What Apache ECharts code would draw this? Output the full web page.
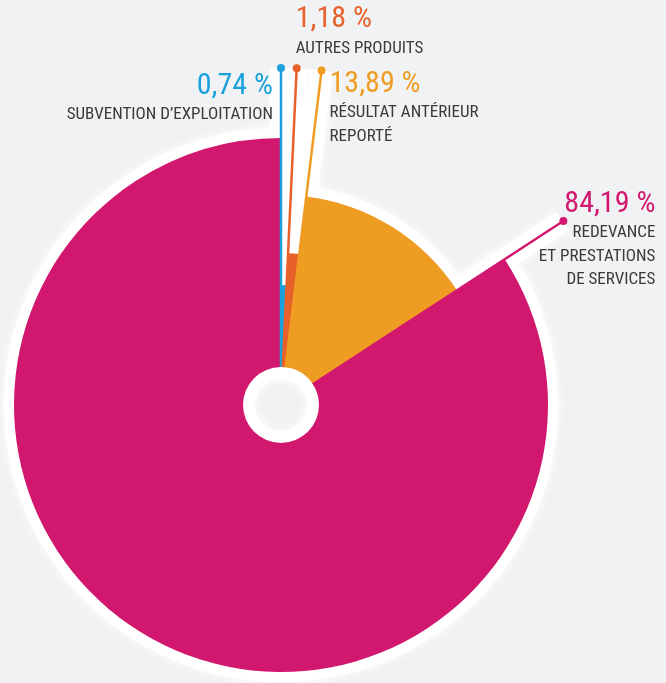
<!DOCTYPE html>
<html>
<head>
<meta charset="utf-8">
<script src="https://cdn.jsdelivr.net/npm/echarts@6/dist/echarts.min.js"></script>
<style>
  html, body { margin: 0; padding: 0; background: #f1f2f4; }
  #main { width: 666px; height: 683px; }
</style>
</head>
<body>
<div id="main"></div>
<script>
// données du graphique
var categories = ['SUBVENTION D’EXPLOITATION', 'AUTRES PRODUITS', 'RÉSULTAT ANTÉRIEUR\nREPORTÉ', 'REDEVANCE\nET PRESTATIONS\nDE SERVICES'];
var values = [0.74, 1.18, 13.89, 84.19];
var percentLabels = ['0,74 %', '1,18 %', '13,89 %', '84,19 %'];

var colors = ['#1ba1db', '#e8612b', '#ee9c22', '#d2186e'];
var outerRadius = [120, 152, 210, 267];
var center = [281, 405];
var innerRadius = 38;
var leaderRadius = 337;
var font = '"Roboto Condensed", "DejaVu Sans Condensed", sans-serif';

// début de chaque part, en % cumulés
var starts = [];
var acc = 0;
values.forEach(function (v) { starts.push(acc); acc += v; });

// placement des étiquettes autour des points
var labelPlacement = [
    { position: [-4, 5], align: 'right', verticalAlign: 'top' },
    { position: [3, -4], align: 'left', verticalAlign: 'bottom' },
    { position: [12, 1], align: 'left', verticalAlign: 'top' },
    { position: [96, -30], align: 'right', verticalAlign: 'top' }
];

var myChart = echarts.init(document.getElementById('main'));

var hidden = { color: 'rgba(0,0,0,0)', borderWidth: 0, shadowBlur: 0 };

function pieData(i, style) {
    return values.map(function (v, j) {
        return { name: categories[j], value: v, itemStyle: j === i ? style : hidden };
    });
}

function pieSeries(i, halo) {
    return {
        type: 'pie',
        silent: true,
        z: halo ? 1 : 2,
        center: center,
        radius: halo ? [innerRadius - 2, outerRadius[i]] : [innerRadius, outerRadius[i]],
        startAngle: 90,
        clockwise: true,
        label: { show: false },
        labelLine: { show: false },
        emphasis: { disabled: true },
        data: pieData(i, halo ? {
            color: '#fff',
            borderColor: '#fff',
            borderWidth: 20,
            borderJoin: 'round',
            shadowBlur: 8,
            shadowColor: 'rgba(255,255,255,1)'
        } : { color: colors[i] })
    };
}

var series = [];
values.forEach(function (v, i) {
    series.push(pieSeries(i, true));
    series.push(pieSeries(i, false));
});

// halo blanc derrière les traits
values.forEach(function (v, i) {
    series.push({
        type: 'line',
        coordinateSystem: 'polar',
        silent: true,
        z: 1,
        showSymbol: false,
        lineStyle: { color: '#fff', width: 22, cap: 'round', shadowBlur: 8, shadowColor: '#fff' },
        data: [[innerRadius, starts[i]], [leaderRadius, starts[i]]]
    });
});

// traits
values.forEach(function (v, i) {
    series.push({
        type: 'line',
        coordinateSystem: 'polar',
        silent: true,
        z: 3,
        showSymbol: false,
        lineStyle: { color: colors[i], width: 2.5 },
        data: [[innerRadius, starts[i]], [leaderRadius, starts[i]]]
    });
});

// points + étiquettes
series.push({
    type: 'scatter',
    coordinateSystem: 'polar',
    silent: true,
    z: 4,
    symbolSize: 8,
    data: values.map(function (v, i) {
        var p = labelPlacement[i];
        return {
            value: [leaderRadius, starts[i]],
            itemStyle: { color: colors[i], opacity: 1 },
            label: {
                show: true,
                position: p.position,
                align: p.align,
                verticalAlign: p.verticalAlign,
                formatter: '{p|' + percentLabels[i] + '}\n{t|' + categories[i] + '}',
                rich: {
                    p: { fontFamily: font, fontSize: 30, lineHeight: 34, color: colors[i] },
                    t: { fontFamily: font, fontSize: 17, lineHeight: 23.5, color: '#3a3a3a' }
                }
            }
        };
    })
});

myChart.setOption({
    backgroundColor: '#f1f2f4',
    animation: false,
    polar: { center: center, radius: leaderRadius },
    angleAxis: { type: 'value', min: 0, max: 100, startAngle: 90, clockwise: true, show: false },
    radiusAxis: { type: 'value', min: 0, max: leaderRadius, show: false },
    series: series
});
</script>
</body>
</html>
